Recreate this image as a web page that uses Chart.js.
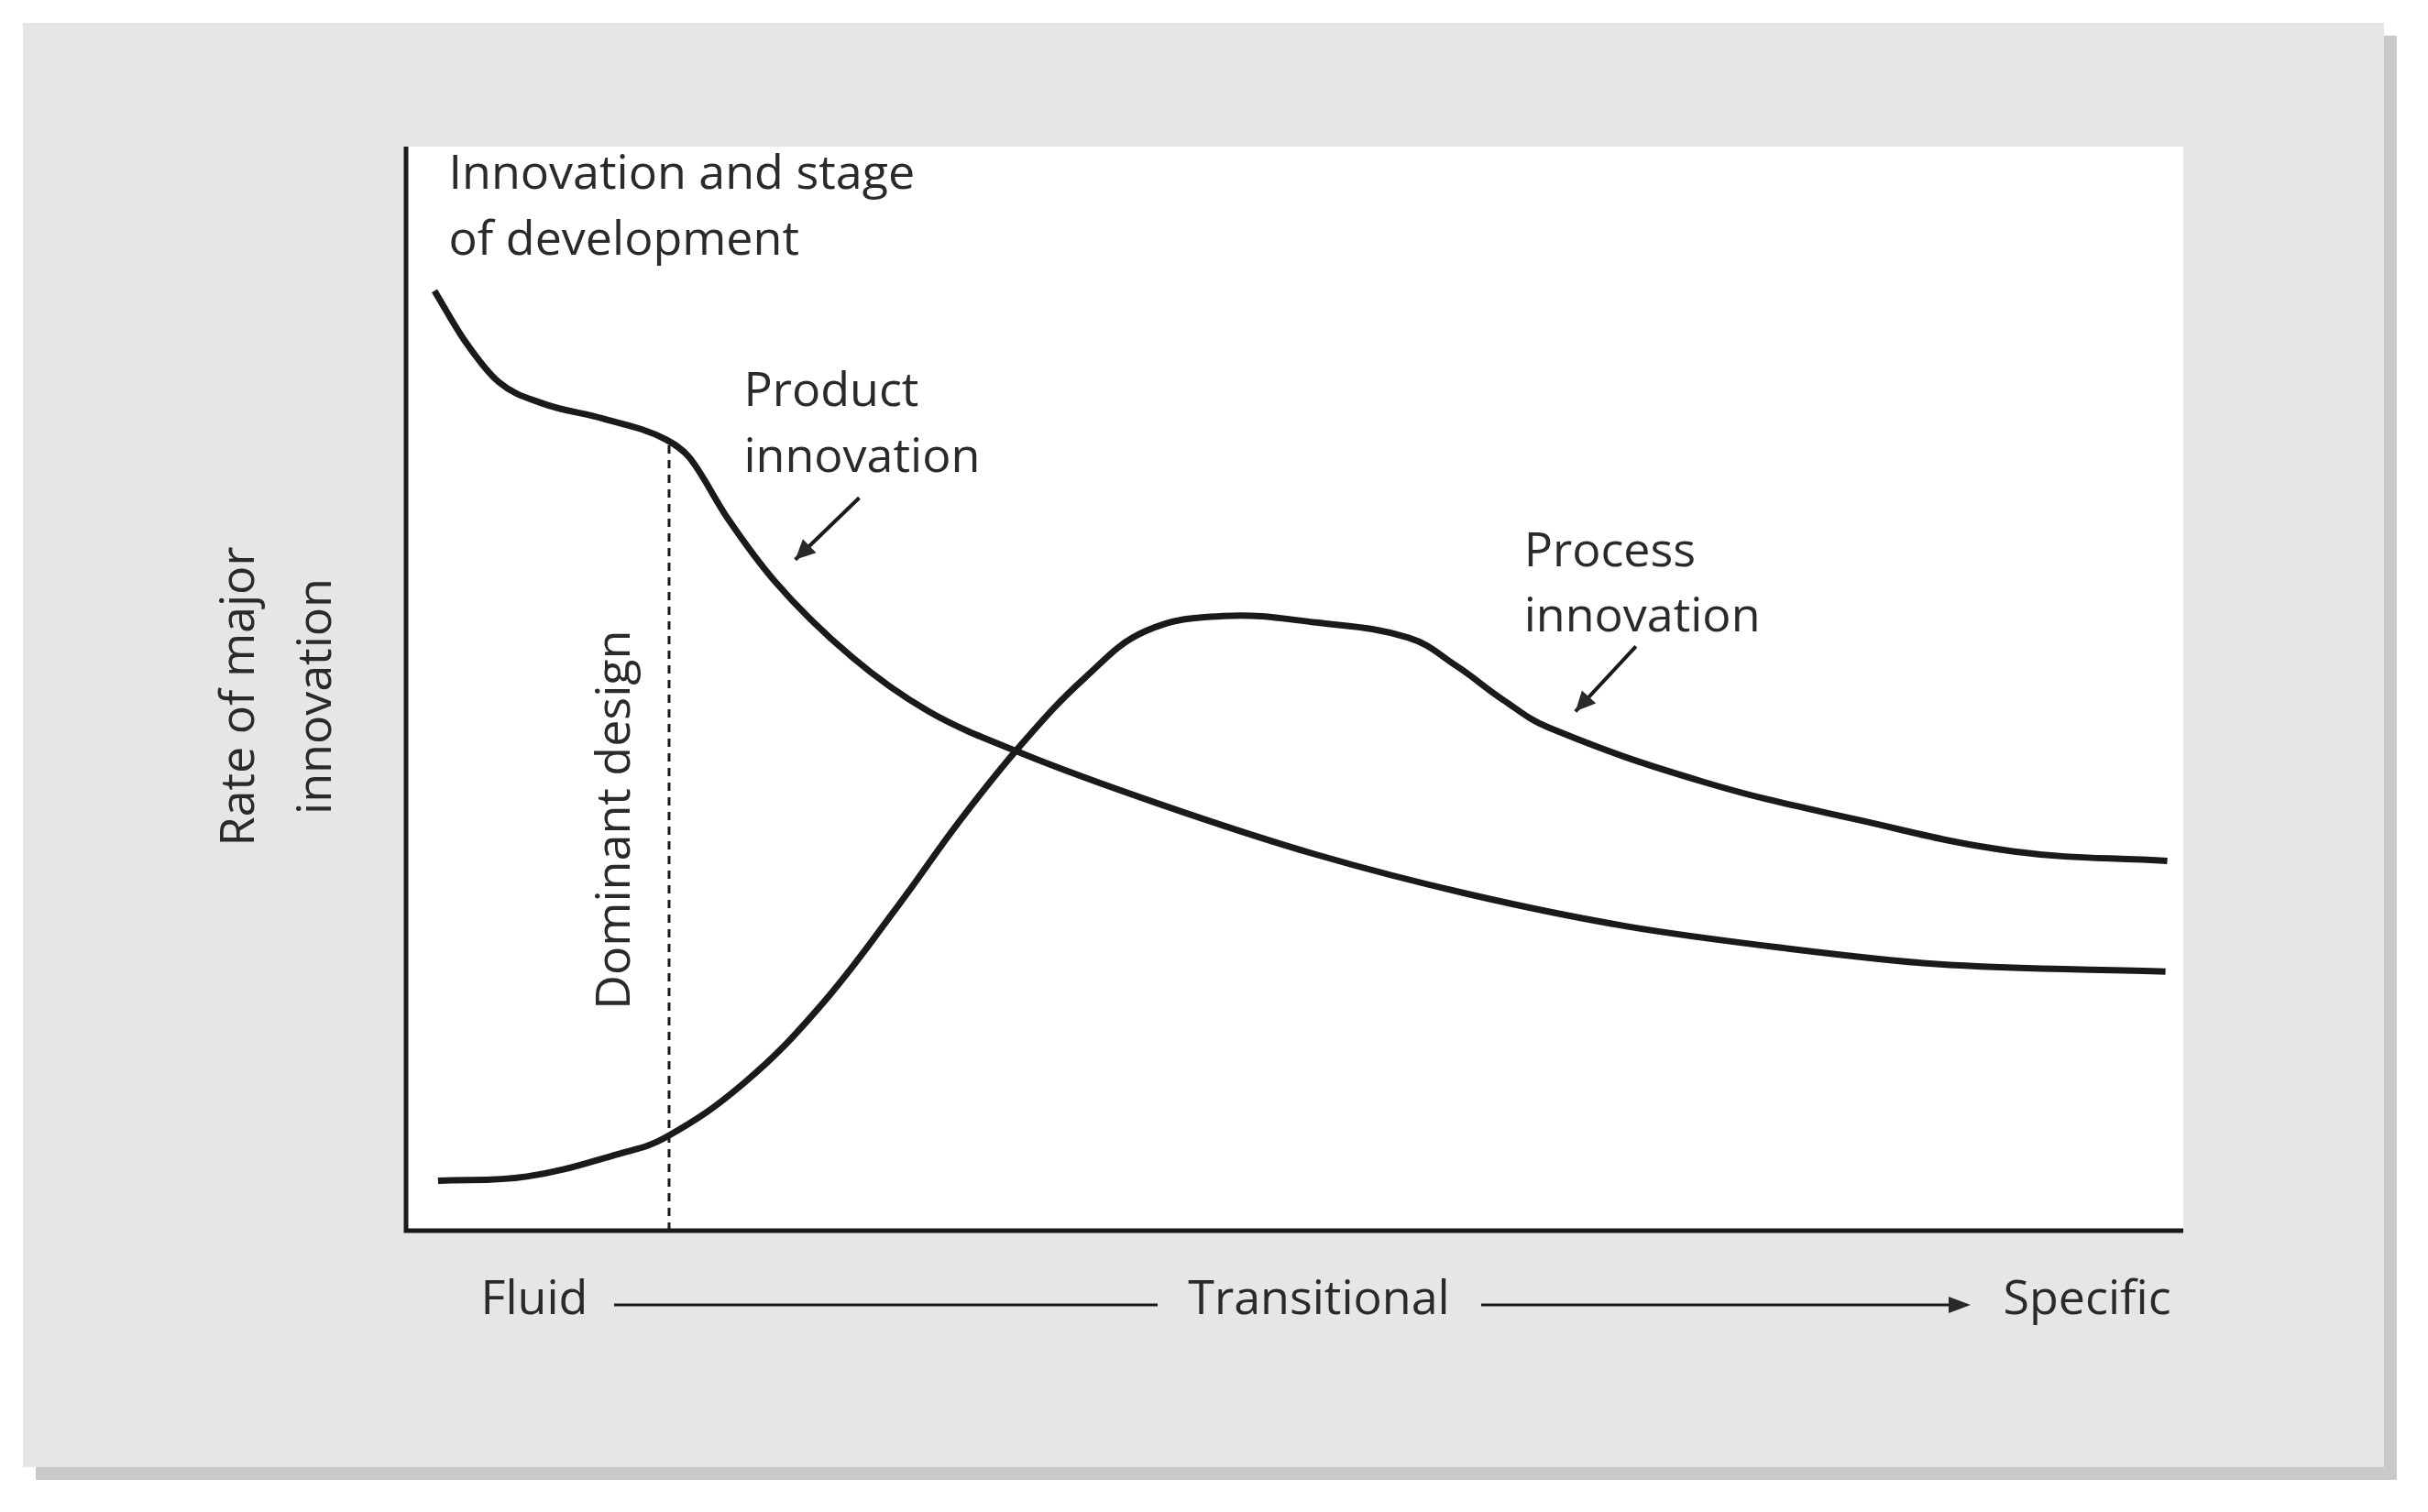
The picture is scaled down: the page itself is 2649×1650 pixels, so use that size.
<!DOCTYPE html>
<html><head><meta charset="utf-8">
<script src="https://cdn.jsdelivr.net/npm/chart.js@4/dist/chart.umd.min.js"></script>
<style>html,body{margin:0;padding:0;background:#fff}#wrap{width:2649px;height:1650px}</style>
</head><body><div id="wrap"><canvas id="c" width="2649" height="1650"></canvas></div>
<script>
const productX=[1.6,3.3,5.2,7.7,11.1,14.6,15.9,18.1,20.7,25.1,29.4,34.7,42.5,51.2,59.9,68.6,77.4,86.1,99];
const productY=[86.7,82.1,78.3,76.3,74.9,73.0,71.4,65.7,60.0,52.9,47.9,44.0,39.3,34.7,31.0,28.1,26.1,24.6,23.9];
const processX=[1.8,6.8,12.0,14.6,19.0,23.3,27.7,31.2,34.7,38.2,41.6,46.0,51.2,56.4,59.1,61.7,64.3,73.0,81.7,90.4,99.1];
const processY=[4.6,5.0,7.1,8.6,13.6,20.7,30.0,37.9,45.0,51.0,55.3,56.7,56.1,54.7,52.1,49.0,46.4,41.4,37.9,35.0,34.1];
const dominantX=[14.8,14.8];
const dominantY=[0,73];
const titleLines=["Innovation and stage","of development"];
const yTitle=["Rate of major","innovation"];
const stages=["Fluid","Transitional","Specific"];
const FONT='"Open Sans", "Noto Sans", sans-serif';
const pts=(xs,ys)=>xs.map((x,i)=>({x,y:ys[i]}));

const deco={id:'deco',
beforeDraw(ch){const c=ch.ctx,a=ch.chartArea;c.save();
 c.fillStyle='#c9c9c9';c.fillRect(39,39,2576,1576);
 c.fillStyle='#e6e6e6';c.fillRect(25,25,2576,1576);
 c.fillStyle='#fff';c.fillRect(a.left,a.top,a.right-a.left,a.bottom-a.top);
 c.restore();},
afterDraw(ch){const c=ch.ctx,a=ch.chartArea,xs=ch.scales.x,ys=ch.scales.y;
 const X=v=>xs.getPixelForValue(v),Y=v=>ys.getPixelForValue(v);
 c.save();c.strokeStyle='#1a1a1a';c.lineWidth=5;
 c.beginPath();c.moveTo(a.left,a.top);c.lineTo(a.left,a.bottom);c.lineTo(a.right,a.bottom);c.stroke();
 c.fillStyle='#2a2a2a';c.font='52px '+FONT;c.textAlign='left';c.textBaseline='alphabetic';
 c.fillText(titleLines[0],X(2.4),Y(96.1));c.fillText(titleLines[1],X(2.4),Y(90.0));
 c.fillText('Product',X(19.0),Y(76.1));c.fillText('innovation',X(19.0),Y(70.0));
 c.fillText('Process',X(62.9),Y(61.3));c.fillText('innovation',X(62.9),Y(55.3));
 function arrow(x1,y1,x2,y2){const p1=[X(x1),Y(y1)],p2=[X(x2),Y(y2)];
  c.lineWidth=4;c.beginPath();c.moveTo(p1[0],p1[1]);c.lineTo(p2[0],p2[1]);c.stroke();
  const ang=Math.atan2(p2[1]-p1[1],p2[0]-p1[0]),L=24,w=0.45;
  c.beginPath();c.moveTo(p2[0],p2[1]);
  c.lineTo(p2[0]-L*Math.cos(ang-w),p2[1]-L*Math.sin(ang-w));
  c.lineTo(p2[0]-L*Math.cos(ang+w),p2[1]-L*Math.sin(ang+w));c.closePath();c.fill();}
 arrow(25.5,67.6,21.9,61.9);arrow(69.2,53.9,65.8,47.9);
 c.save();c.translate(X(11.8),Y(37.9));c.rotate(-Math.PI/2);c.textAlign='center';c.textBaseline='middle';
 c.fillText('Dominant design',0,0);c.restore();
 c.save();c.translate(262,760);c.rotate(-Math.PI/2);c.textAlign='center';c.textBaseline='middle';
 c.fillText(yTitle[0],0,0);c.fillText(yTitle[1],0,84);c.restore();
 c.textAlign='center';c.textBaseline='middle';const by=1419;
 c.fillText(stages[0],583,by);c.fillText(stages[1],1439,by);c.fillText(stages[2],2277,by);
 c.lineWidth=3;c.beginPath();c.moveTo(670,1424);c.lineTo(1263,1424);c.moveTo(1616,1424);c.lineTo(2140,1424);c.stroke();
 c.beginPath();c.moveTo(2150,1424);c.lineTo(2126,1415);c.lineTo(2126,1433);c.closePath();c.fill();
 c.restore();}};

new Chart(document.getElementById('c'),{type:'line',
data:{datasets:[
 {data:pts(productX,productY),borderColor:'#1a1a1a',borderWidth:7,pointRadius:0,tension:0.4,cubicInterpolationMode:'monotone'},
 {data:pts(processX,processY),borderColor:'#1a1a1a',borderWidth:7,pointRadius:0,tension:0.4},
 {data:pts(dominantX,dominantY),borderColor:'#1a1a1a',borderWidth:3,borderDash:[9,7],pointRadius:0}]},
options:{responsive:false,animation:false,devicePixelRatio:1,
 layout:{padding:{left:443,top:160,right:267,bottom:307}},
 plugins:{legend:{display:false},tooltip:{enabled:false}},
 scales:{x:{type:'linear',min:0,max:100,display:false},y:{min:0,max:100,display:false}}},
plugins:[deco]});
</script></body></html>
